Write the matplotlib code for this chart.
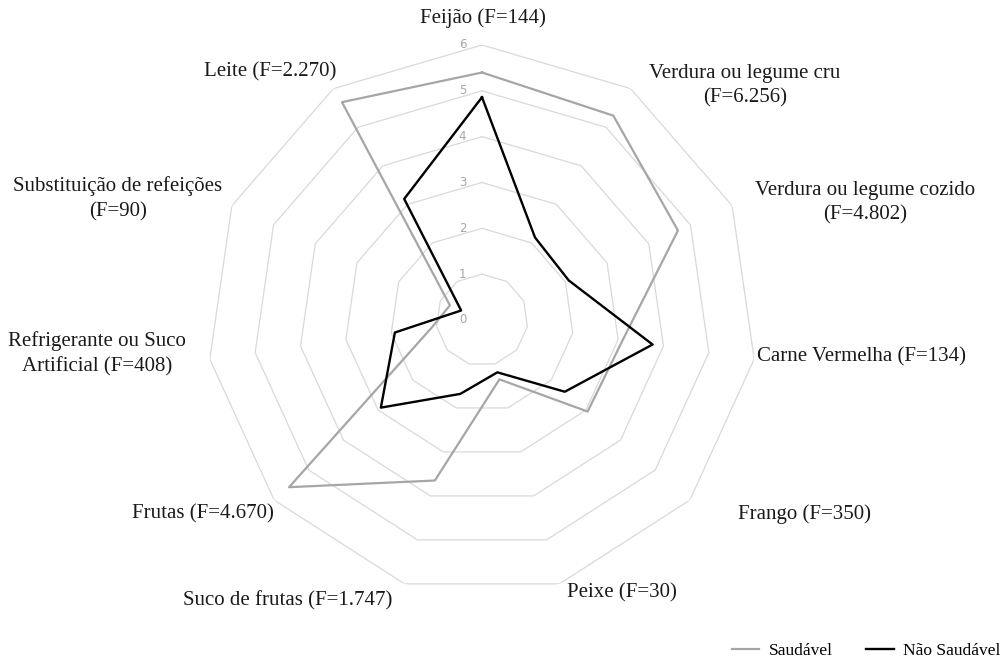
import numpy as np
import matplotlib.pyplot as plt

# --- data ---
categories = ['Feijão (F=144)', 'Verdura ou legume cru\n(F=6.256)',
              'Verdura ou legume cozido\n(F=4.802)', 'Carne Vermelha (F=134)',
              'Frango (F=350)', 'Peixe (F=30)', 'Suco de frutas (F=1.747)',
              'Frutas (F=4.670)', 'Refrigerante ou Suco\nArtificial (F=408)',
              'Substituição de refeições\n(F=90)', 'Leite (F=2.270)']
saudavel = [5.4, 5.3, 4.7, 3.1, 3.05, 1.35, 3.65, 5.57, 1.1, 0.77, 5.65]
nao_saudavel = [4.86, 2.14, 2.08, 3.76, 2.39, 1.19, 1.68, 2.92, 1.92, 0.5, 3.14]
levels = [1, 2, 3, 4, 5, 6]

# label centres in pixels (x, y from top)
label_pos = [(483, 18), (745, 86), (865, 203), (862, 357), (805, 514),
             (622, 593), (288, 601), (203, 514), (97, 354), (118, 199),
             (270, 72)]

W, H = 1004, 657
fig = plt.figure(figsize=(W / 100, H / 100), dpi=100)
cx, cy, R = 482, 320, 275
ax = fig.add_axes([(cx - R) / W, 1 - (cy + R) / H, 2 * R / W, 2 * R / H],
                  projection='polar')
ax.set_theta_zero_location('N')
ax.set_theta_direction(-1)
ax.set_ylim(0, 6)
ax.grid(False)
ax.spines['polar'].set_visible(False)
ax.set_xticks([])
ax.set_yticks([])
ax.patch.set_alpha(0)

n = len(categories)
ang = np.linspace(0, 2 * np.pi, n, endpoint=False)
ang_c = np.append(ang, ang[0])

# polygon grid rings
for lv in levels:
    ax.plot(ang_c, [lv] * (n + 1), color='#d9d9d9', lw=0.9, zorder=1)

# tick labels
for lv in [0] + levels:
    ax.annotate(str(lv), xy=(0, lv), xytext=(-14, 0), textcoords='offset points',
                ha='center', va='center', fontsize=8.5, color='#a6a6a6',
                family='DejaVu Sans')

ax.plot(ang_c, saudavel + saudavel[:1], color='#a6a6a6', lw=1.6,
        label='Saudável', zorder=3)
ax.plot(ang_c, nao_saudavel + nao_saudavel[:1], color='black', lw=1.7,
        label='Não Saudável', zorder=4)

for lab, (x, y) in zip(categories, label_pos):
    fig.text(x / W, 1 - y / H, lab, ha='center', va='center', fontsize=15,
             family='Liberation Serif', linespacing=1.4, color='#1a1a1a')

fig.legend(loc='lower right', bbox_to_anchor=(1.0, -0.008), ncol=2, frameon=False,
           prop={'family': 'Liberation Serif', 'size': 12.5},
           handlelength=1.6, columnspacing=1.9, handletextpad=0.55,
           borderaxespad=0.0, borderpad=0.2)

fig.savefig('out.png', dpi=100)
